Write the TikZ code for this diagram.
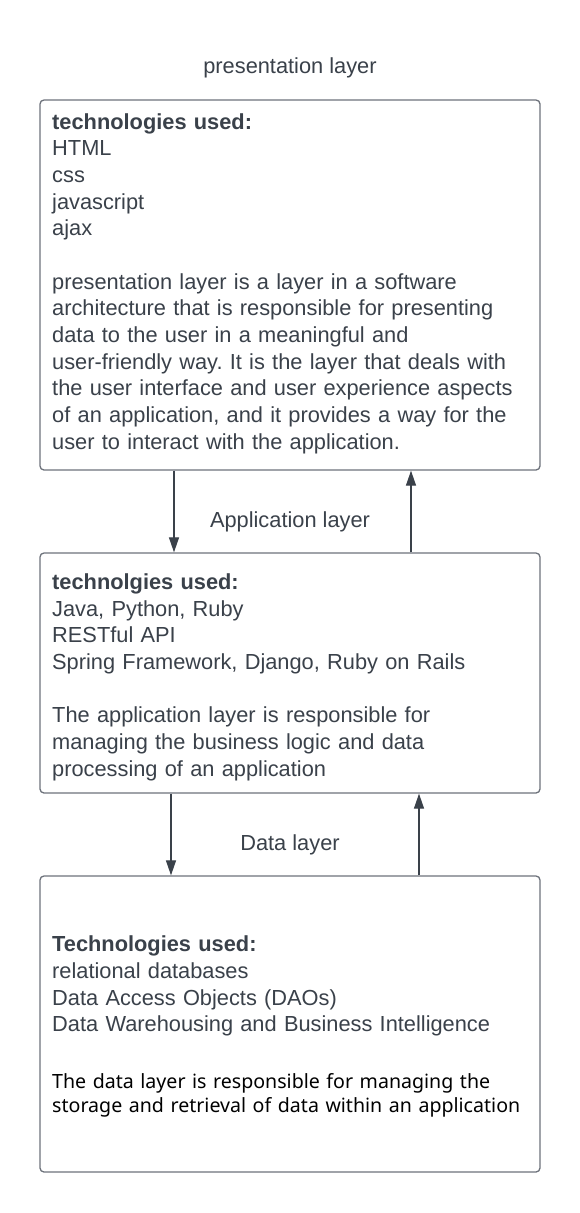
\documentclass[tikz,border=0pt]{standalone}
\usepackage{fontspec}
\setmainfont{Liberation Sans}
\newfontfamily\notofont{Noto Sans}
\usetikzlibrary{arrows.meta}
\definecolor{txt}{HTML}{3A414A}
\definecolor{bord}{HTML}{6E737C}
\frenchspacing
\tikzset{
  layerbox/.style={draw=bord, line width=1.3pt, rounded corners=4pt, minimum width=500pt, inner sep=0pt},
  arr/.style={draw=txt, line width=1.2pt, -{Triangle[length=15pt,width=10pt]}},
  body/.style={anchor=base west, inner sep=0pt, text width=480pt, align=left, text=txt,
     font=\fontsize{21.8pt}{26.7pt}\selectfont\frenchspacing},
  lbl/.style={anchor=base, inner sep=0pt, text=txt, font=\fontsize{21.8pt}{26.7pt}\selectfont}
}
\begin{document}
\begin{tikzpicture}[x=1pt,y=-1pt]
\useasboundingbox[fill=white] (0,0) rectangle (580,1213);
\node[layerbox, minimum height=370pt] (b1) at (290,285) {};
\node[layerbox, minimum height=240pt] (b2) at (290,673) {};
\node[layerbox, minimum height=296pt] (b3) at (290,1024) {};

\node[lbl] (title) at (290,73.3) {presentation layer};
\node[lbl] (app) at (290,527.3) {Application layer};
\node[lbl] (data) at (290,850) {Data layer};

\node[body] (t1a) at (52,129) {\textbf{technologies used:}\\HTML\\css\\javascript\\ajax};
\node[body] (t1b) at (52,289) {presentation layer is a layer in a software\\architecture that is responsible for presenting\\data to the user in a meaningful and\\user-friendly way. It is the layer that deals with\\the user interface and user experience aspects\\of an application, and it provides a way for the\\user to interact with the application.};

\node[body] (t2a) at (52,589.3) {\textbf{technolgies used:}\\Java, Python, Ruby\\RESTful API\\Spring Framework, Django, Ruby on Rails};
\node[body] (t2b) at (52,722.7) {The application layer is responsible for\\managing the business logic and data\\processing of an application};

\node[body] (t3a) at (52,951.7) {\textbf{Technologies used:}\\relational databases\\Data Access Objects (DAOs)\\Data Warehousing and Business Intelligence};
\node[body, text=black, font=\notofont\fontsize{19.6pt}{24pt}\selectfont] (t3b) at (52,1088.3) {The data layer is responsible for managing the\\storage and retrieval of data within an application};

\draw[arr] ([xshift=-116pt]b1.south) -- ([xshift=-116pt]b2.north);
\draw[arr] ([xshift=121pt]b2.north) -- ([xshift=121pt]b1.south);
\draw[arr] ([xshift=-119pt]b2.south) -- ([xshift=-119pt]b3.north);
\draw[arr] ([xshift=129pt]b3.north) -- ([xshift=129pt]b2.south);
\end{tikzpicture}
\end{document}
